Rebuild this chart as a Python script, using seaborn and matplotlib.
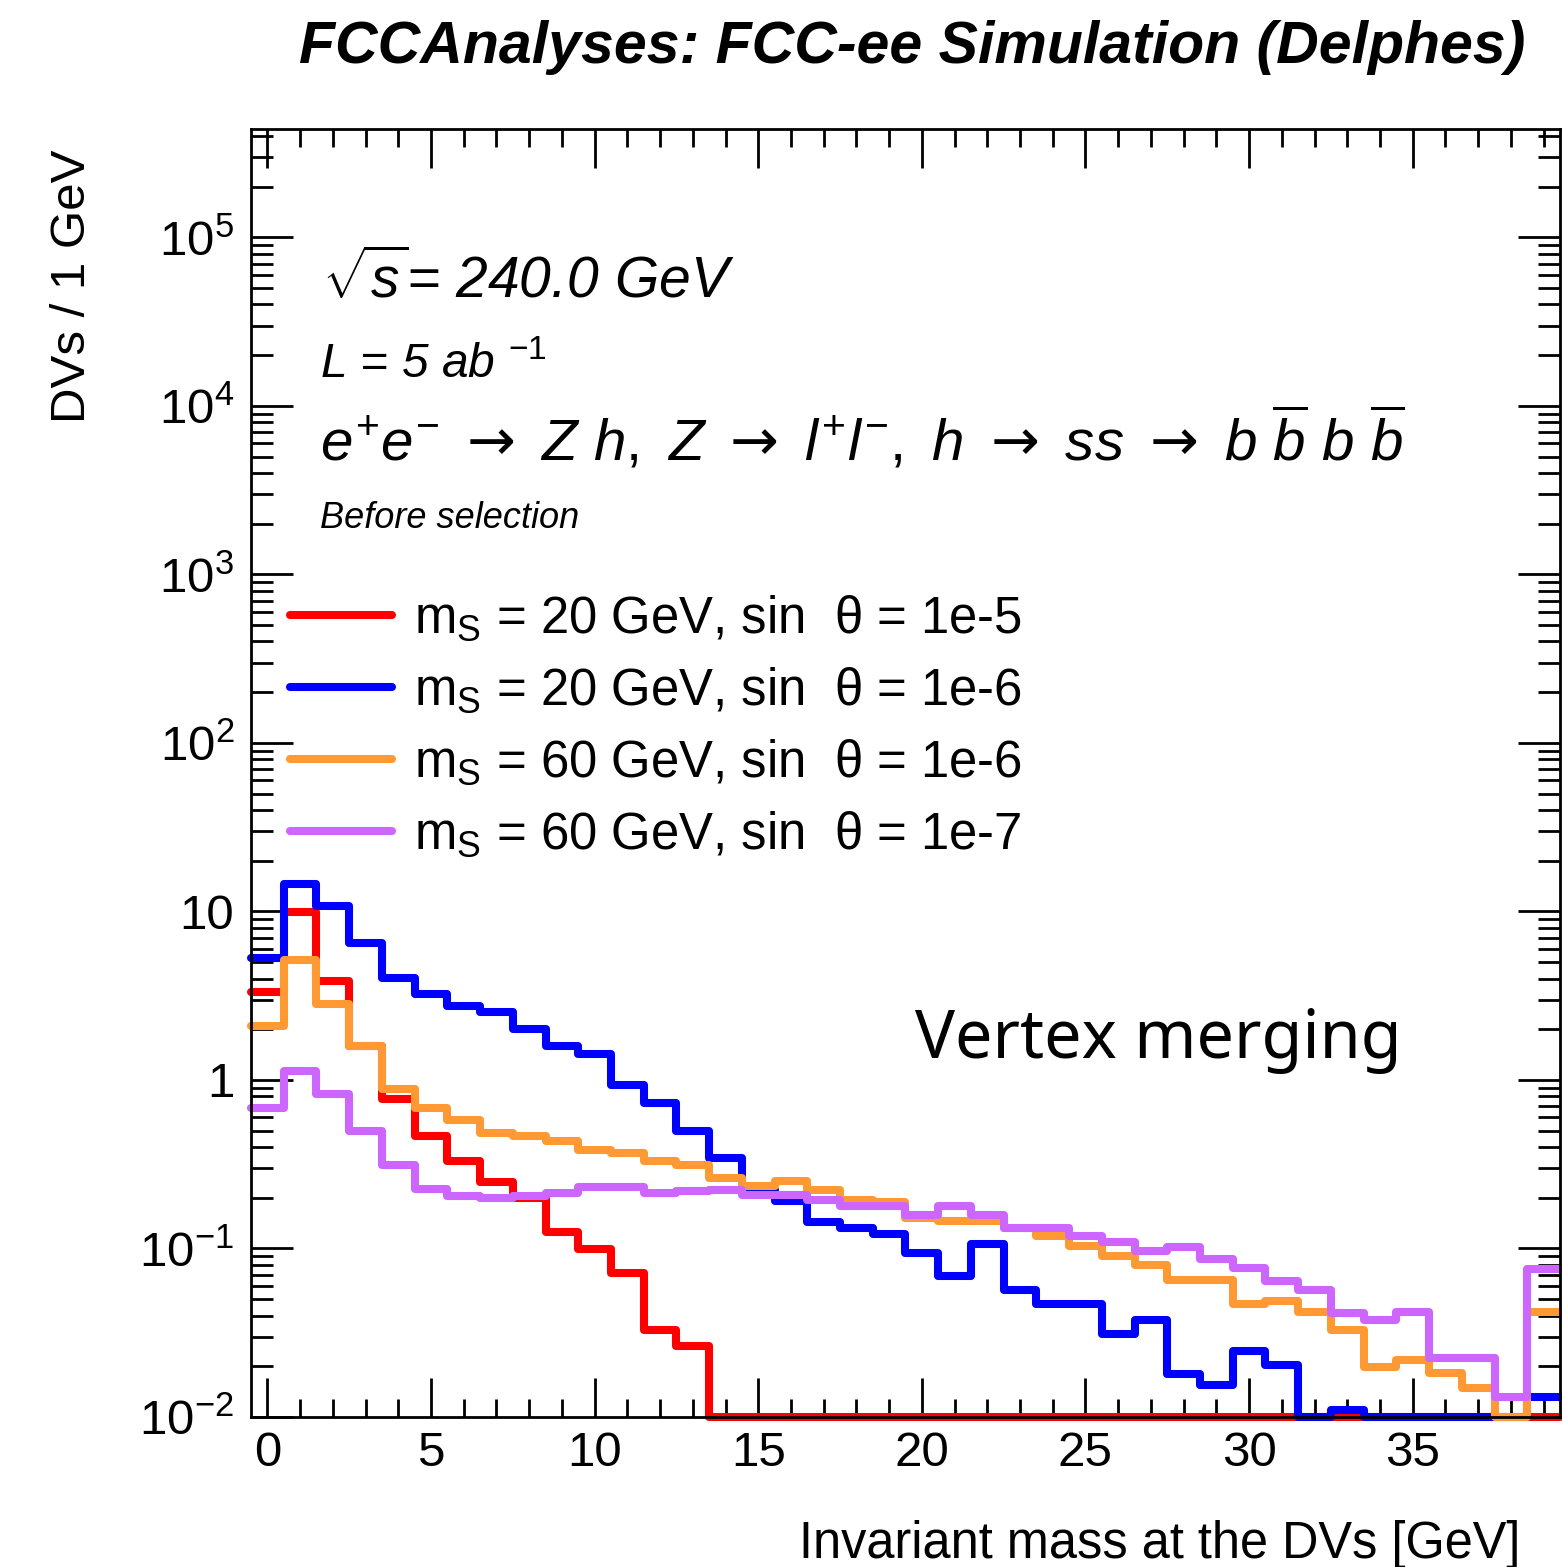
import numpy as np
import pandas as pd
import matplotlib
matplotlib.use("Agg")
import matplotlib.pyplot as plt
import seaborn as sns
from matplotlib.ticker import LogLocator, NullFormatter, MultipleLocator

# ---------------- data (DVs / 1 GeV, bin centres 0..39 GeV) ----------------
mass_bins = list(range(40))

red_20_1e5 = [3.31, 9.9, 3.89, 1.6, 0.776, 0.462, 0.33, 0.249, 0.20, 0.125,
              0.0995, 0.0714, 0.033, 0.0263, 0, 0, 0, 0, 0, 0,
              0, 0, 0, 0, 0, 0, 0, 0, 0, 0,
              0, 0, 0, 0, 0, 0, 0, 0, 0, 0]

blue_20_1e6 = [5.26, 14.5, 10.8, 6.48, 4.04, 3.24, 2.73, 2.54, 2.02, 1.58,
               1.42, 0.93, 0.73, 0.50, 0.343, 0.222, 0.191, 0.143, 0.132, 0.122,
               0.094, 0.069, 0.106, 0.0564, 0.0467, 0.0467, 0.031, 0.0375, 0.018, 0.0155,
               0.0247, 0.0203, 0, 0.011, 0, 0, 0, 0, 0, 0.0132]

orange_60_1e6 = [2.09, 5.14, 2.82, 1.58, 0.889, 0.678, 0.579, 0.483, 0.465, 0.432,
                 0.384, 0.368, 0.33, 0.315, 0.263, 0.235, 0.251, 0.221, 0.194, 0.189,
                 0.151, 0.146, 0.146, 0.132, 0.118, 0.104, 0.090, 0.0797, 0.0647, 0.0647,
                 0.0467, 0.0489, 0.042, 0.0327, 0.0199, 0.0217, 0.0183, 0.0148, 0, 0.042]

purple_60_1e7 = [0.678, 1.125, 0.822, 0.497, 0.315, 0.224, 0.205, 0.199, 0.205, 0.214,
                 0.232, 0.232, 0.214, 0.219, 0.222, 0.207, 0.207, 0.193, 0.179, 0.179,
                 0.158, 0.179, 0.158, 0.132, 0.132, 0.118, 0.109, 0.0969, 0.102, 0.0869,
                 0.0769, 0.0641, 0.057, 0.0415, 0.0375, 0.042, 0.0224, 0.0224, 0.0132, 0.0759]

series_values = [red_20_1e5, blue_20_1e6, orange_60_1e6, purple_60_1e7]
series_labels = [r"m$_{\mathrm{S}}$ = 20 GeV, sin  θ = 1e-5",
                 r"m$_{\mathrm{S}}$ = 20 GeV, sin  θ = 1e-6",
                 r"m$_{\mathrm{S}}$ = 60 GeV, sin  θ = 1e-6",
                 r"m$_{\mathrm{S}}$ = 60 GeV, sin  θ = 1e-7"]
series_colors = ["#FF0000", "#0000FF", "#FF9933", "#CC66FF"]

ytick_vals = [1e-2, 1e-1, 1, 10, 1e2, 1e3, 1e4, 1e5]
ytick_labels = [r"$10^{-2}$", r"$10^{-1}$", "1", "10",
                r"$10^{2}$", r"$10^{3}$", r"$10^{4}$", r"$10^{5}$"]

x_range = (-0.5, 39.5)
y_range = (1e-2, 4.4e5)

# ---------------- style ----------------
sns.set_theme(style="ticks")
plt.rcParams["font.family"] = ["Liberation Sans", "DejaVu Sans"]
plt.rcParams["mathtext.fontset"] = "custom"
plt.rcParams["mathtext.rm"] = "Liberation Sans"
plt.rcParams["mathtext.it"] = "Liberation Sans:italic"
plt.rcParams["mathtext.bf"] = "Liberation Sans:bold"
plt.rcParams["mathtext.sf"] = "DejaVu Sans"
for key in ["text.color", "axes.labelcolor", "xtick.color", "ytick.color", "axes.edgecolor"]:
    plt.rcParams[key] = "black"

fig = plt.figure(figsize=(15.62, 15.67), dpi=100)
ax = fig.add_axes([0.16069, 0.09573, 0.83803, 0.82195])

for vals, col in zip(series_values, series_colors):
    v = np.asarray(vals, dtype=float)
    df = pd.DataFrame({"mass": mass_bins,
                       "w": np.where(v > 0, v, y_range[0])})  # empty bins drawn on the floor
    sns.histplot(data=df, x="mass", weights="w", binwidth=1, binrange=x_range,
                 element="step", fill=False, color=col, linewidth=5.8, ax=ax,
                 clip_on=False)

ax.set_yscale("log")
ax.set_xlim(*x_range)
ax.set_ylim(*y_range)
ax.set_yticks(ytick_vals, ytick_labels)
ax.yaxis.set_minor_locator(LogLocator(base=10, subs=np.arange(2, 10), numticks=30))
ax.yaxis.set_minor_formatter(NullFormatter())
ax.xaxis.set_major_locator(MultipleLocator(5))
ax.xaxis.set_minor_locator(MultipleLocator(1))

for sp in ax.spines.values():
    sp.set_linewidth(2)
    sp.set_color("black")
    sp.set_visible(True)

ax.tick_params(axis="both", which="both", direction="in", top=True, right=True,
               width=2, color="black", labelcolor="black", labelsize=35.5)
ax.tick_params(axis="x", which="major", length=28, pad=10)
ax.tick_params(axis="x", which="minor", length=13)
ax.tick_params(axis="y", which="major", length=30, pad=12)
ax.tick_params(axis="y", which="minor", length=16)

ax.set_xlabel("Invariant mass at the DVs [GeV]", fontsize=36.4, loc="right")
ax.xaxis.set_label_coords(0.9694, -0.080)
ax.set_ylabel("DVs / 1 GeV", fontsize=35.5, loc="top")
ax.yaxis.set_label_coords(-0.119, 0.9837)

fig.text(0.9763, 0.9598, "FCCAnalyses: FCC-ee Simulation (Delphes)",
         ha="right", va="baseline", fontsize=42.5, fontweight="bold", fontstyle="italic")

ax.text(0.0545, 0.8688, r"$\sqrt{s}$= 240.0 GeV", transform=ax.transAxes,
        fontsize=41, fontstyle="italic", ha="left", va="baseline")
ax.text(0.0527, 0.8067, r"L = 5 ab $^{-1}$", transform=ax.transAxes,
        fontsize=34.5, fontstyle="italic", ha="left", va="baseline")
arrow = r"\ \mathsf{\rightarrow}\ "
process = (r"$e^{+}e^{-}" + arrow + r"Z\ h,\ Z" + arrow + r"l^{+}l^{-},\ h" + arrow
           + r"ss" + arrow + r"b\ \overline{b}\ b\ \overline{b}$")
ax.text(0.0527, 0.743, process, transform=ax.transAxes, fontsize=42,
        fontstyle="italic", ha="left", va="baseline")
ax.text(0.0527, 0.690, "Before selection", transform=ax.transAxes,
        fontsize=26, fontstyle="italic", ha="left", va="baseline")

ax.legend(handles=ax.lines[:4], labels=series_labels, loc="upper left",
          bbox_to_anchor=(0.0298, 0.639), frameon=False, fontsize=36.6,
          handlelength=2.0, handletextpad=0.43, labelspacing=0.44,
          borderaxespad=0, borderpad=0)

ax.text(0.507, 0.2787, "Vertex merging", transform=ax.transAxes,
        fontsize=48, family=["Noto Sans", "DejaVu Sans"], ha="left", va="baseline")

fig.savefig("out.png", dpi=100)
